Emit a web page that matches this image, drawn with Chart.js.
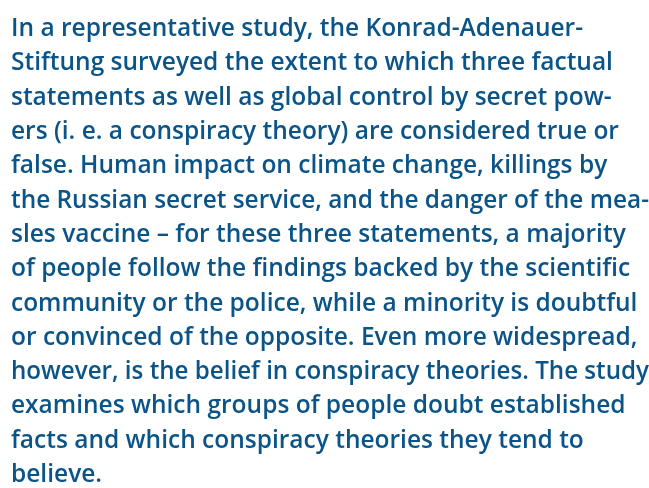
<!DOCTYPE html>
<html>
<head>
<meta charset="utf-8">
<script src="https://cdn.jsdelivr.net/npm/chart.js@4"></script>
<style>
  html, body { margin: 0; padding: 0; background: #fff; }
  #wrap { width: 649px; height: 488px; }
</style>
</head>
<body>
<div id="wrap"><canvas id="myChart" width="649" height="488"></canvas></div>
<script>
// the reference is a block of text only, one entry per printed line
const textLines = [
  'In a representative study, the Konrad-Adenauer-',
  'Stiftung surveyed the extent to which three factual',
  'statements as well as global control by secret pow-',
  'ers (i. e. a conspiracy theory) are considered true or',
  'false. Human impact on climate change, killings by',
  'the Russian secret service, and the danger of the mea-',
  'sles vaccine \u2013 for these three statements, a majority',
  'of people follow the findings backed by the scientific',
  'community or the police, while a minority is doubtful',
  'or convinced of the opposite. Even more widespread,',
  'however, is the belief in conspiracy theories. The study',
  'examines which groups of people doubt established',
  'facts and which conspiracy theories they tend to',
  'believe.'
];

const categories = [];
const values = [];

function draw() {
  const ctx = document.getElementById('myChart').getContext('2d');
  new Chart(ctx, {
    type: 'bar',
    data: {
      labels: categories,
      datasets: [{ data: values }]
    },
    options: {
      responsive: false,
      animation: false,
      layout: { padding: { left: 11, top: 0 } },
      plugins: {
        legend: { display: false },
        tooltip: { enabled: false },
        title: {
          display: true,
          text: textLines,
          align: 'start',
          color: '#0b5488',
          font: { family: 'Open Sans', size: 24.5, weight: '600', lineHeight: '34.3px' },
          padding: { top: 12, bottom: 0 }
        }
      },
      scales: {
        x: { display: false },
        y: { display: false }
      }
    }
  });
}

document.fonts.load('600 24px "Open Sans"').then(draw, draw);
</script>
</body>
</html>
